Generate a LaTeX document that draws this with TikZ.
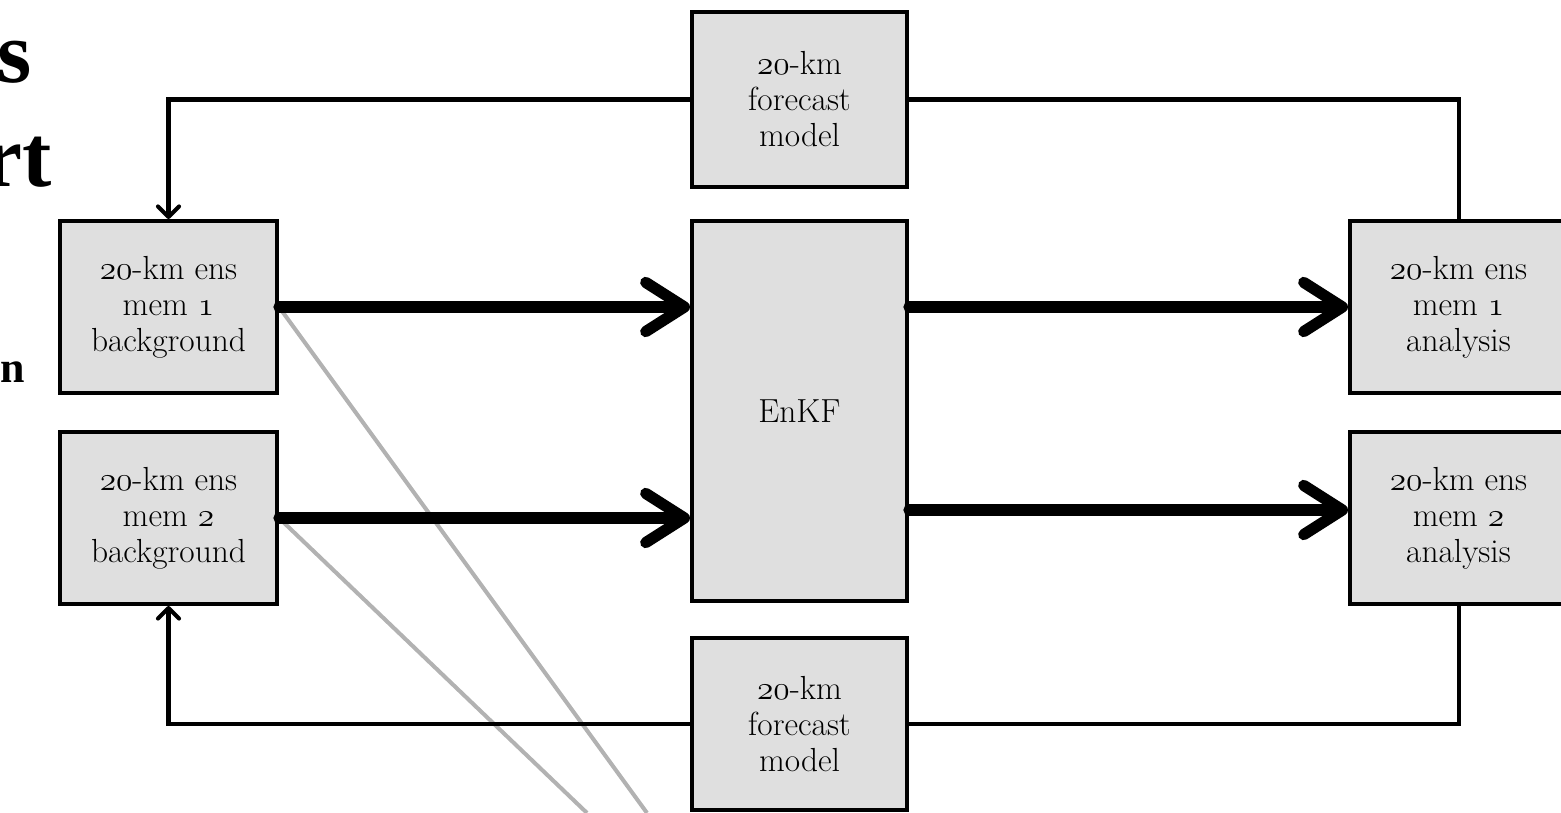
\documentclass[tikz,border=0pt]{standalone}
\usepackage{fix-cm}
\usepackage{fontspec}
\newfontfamily\titlefont{Liberation Serif}
\usetikzlibrary{positioning}
\usetikzlibrary{arrows.meta}
\newcommand{\osn}[1]{{\usefont{OML}{cmm}{m}{it}#1}}
\tikzset{x=0.02cm, y=-0.02cm, % one unit = one pixel of the slide
box/.style={ % every grey block
draw, line width=2.3pt, fill=gray!25,
inner sep=0pt, align=center,
font=\fontsize{19}{20.5}\selectfont,
minimum width=4.34cm, minimum height=3.44cm},
flow/.style={ % heavy arrows into and out of the filter
draw, line width=6.4pt, line cap=round,
-{Straight Barb[length=22pt,width=28pt,round]}},
feed/.style={ % thin cycling arrows
draw, line width=2.3pt,
-{Straight Barb[length=6pt,width=12pt,round]}},
link/.style={draw, line width=2.3pt}, % thin lines without tip
miss/.style={draw, line width=2.3pt, gray!60}, % grey lines off the slide
cut/.style={font=\titlefont\bfseries, inner sep=0pt, anchor=base east}}

\begin{document}
\begin{tikzpicture}
\useasboundingbox (0,0) rectangle (1561,813);
% title fragments cut by the slide edge
\node[cut, font=\titlefont\bfseries\fontsize{50}{60}\selectfont] (ts) at (32,83) {s};
\node[cut, font=\titlefont\bfseries\fontsize{50}{60}\selectfont] (trt) at (52,187) {rt};
\node[cut, font=\titlefont\bfseries\fontsize{25}{30}\selectfont] (tn) at (25,383) {n};
% blocks
\node[box] (bg1) at (168.5,307) {\osn{20}-km ens\\mem \osn{1}\\background};
\node[box, below=0.7cm of bg1] (bg2) {\osn{20}-km ens\\mem \osn{2}\\background};
\node[box, minimum width=4.3cm, minimum height=7.6cm] (enkf) at (799.5,411) {EnKF};
\node[box, minimum width=4.3cm, minimum height=3.5cm] (fctop) at (799.5,99.5) {\osn{20}-km\\forecast\\model};
\node[box, minimum width=4.3cm] (fcbot) at (799.5,724) {\osn{20}-km\\forecast\\model};
\node[box] (an1) at (1458.5,307) {\osn{20}-km ens\\mem \osn{1}\\analysis};
\node[box, below=0.7cm of an1] (an2) {\osn{20}-km ens\\mem \osn{2}\\analysis};
% grey lines running off the bottom
\coordinate (g1) at (647,813);
\coordinate (g2) at (587,813);
\draw[miss] (bg1.east) -- (g1);
\draw[miss] (bg2.east) -- (g2);
% cycling
\draw[feed] (fctop.west) -| (bg1.north);
\draw[link] (an1.north) |- (fctop.east);
\draw[link] (an2.south) |- (fcbot.east);
\draw[feed] (fcbot.west) -| (bg2.south);
% filter
\draw[flow] (bg1.east) -- (enkf.west |- bg1.east);
\draw[flow] (bg2.east) -- (enkf.west |- bg2.east);
\draw[flow] (enkf.east |- an1.west) -- (an1.west);
\draw[flow] ([yshift=0.16cm]enkf.east |- an2.west) -- ([yshift=0.16cm]an2.west);
\end{tikzpicture}
\end{document}
